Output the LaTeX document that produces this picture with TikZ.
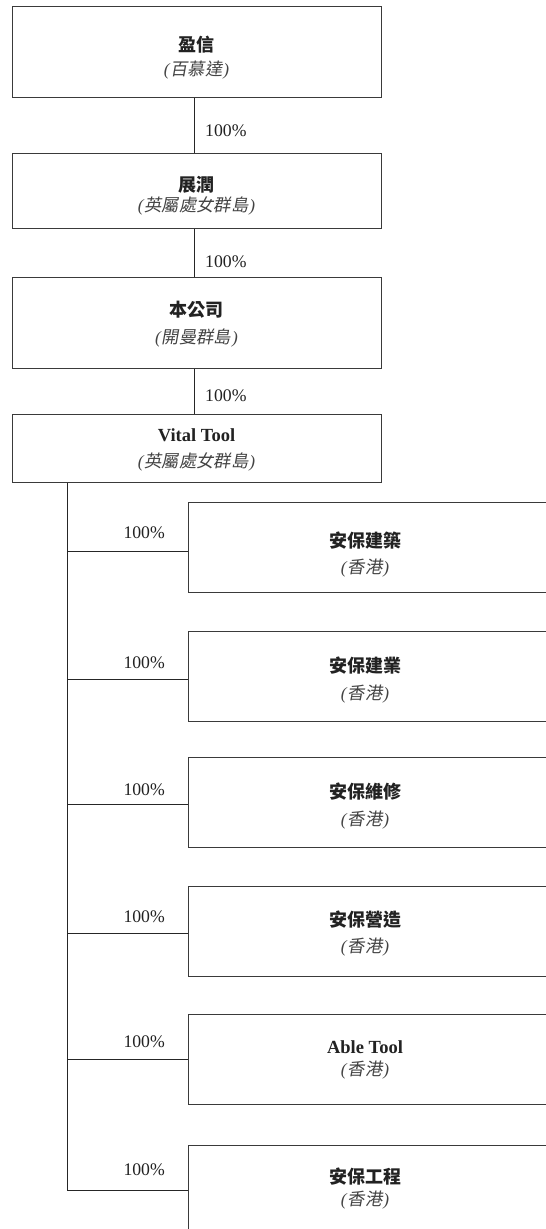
\documentclass[tikz,border=0pt]{standalone}
\usepackage{fontspec}
\setmainfont{Liberation Serif}
\newfontfamily\cjk{Noto Sans CJK TC}
\newfontfamily\cjksl[FakeSlant=0.18]{Noto Sans CJK TC}
\newcommand\ttlcjk[1]{{\cjk\bfseries #1}}
\newcommand\subcjk[1]{{\itshape (}\kern1pt{\cjksl #1}\kern1pt{\itshape )}}
\definecolor{linegray}{HTML}{3A3A3A}
\definecolor{txtgray}{HTML}{222222}
\tikzset{
  box/.style={draw=linegray, line width=1pt, anchor=north west, inner sep=0pt, minimum width=369pt},
  rbox/.style={draw=linegray, line width=1pt, anchor=north west, inner sep=0pt, minimum width=420pt, minimum height=90pt},
  conn/.style={draw=black!85, line width=0.9pt},
  ttl/.style={text=txtgray, font=\fontsize{18}{21}\selectfont\bfseries, inner sep=0pt},
  sub/.style={text=txtgray!85, font=\fontsize{17.3}{20}\selectfont, inner sep=0pt},
  pct/.style={text=txtgray, font=\fontsize{17.7}{20}\selectfont, inner sep=0pt}
}
\begin{document}
\begin{tikzpicture}[x=1pt,y=-1pt]
\clip (0,0) rectangle (546,1229);
\fill[white] (0,0) rectangle (546,1229);
% top chain boxes
\node[box, minimum height=91pt] (b1) at (12,6) {};
\node[box, minimum height=75pt] (b2) at (12,153) {};
\node[box, minimum height=91pt] (b3) at (12,277) {};
\node[box, minimum height=68pt] (b4) at (12,414) {};
% texts
\node[ttl] (t1) at (196.5,45) {\ttlcjk{盈信}};
\node[sub] (s1) at (196.5,70) {\subcjk{百慕達}};
\node[ttl] (t2) at (196.5,185) {\ttlcjk{展潤}};
\node[sub] (s2) at (196.5,206) {\subcjk{英屬處女群島}};
\node[ttl] (t3) at (196.5,310) {\ttlcjk{本公司}};
\node[sub] (s3) at (196.5,338) {\subcjk{開曼群島}};
\node[ttl, font=\fontsize{18.5}{21}\selectfont\bfseries] (t4) at (196.5,435) {Vital Tool};
\node[sub] (s4) at (196.5,462) {\subcjk{英屬處女群島}};
% chain connectors
\coordinate (spine) at (194,0);
\draw[conn] (b1.south -| spine) -- (b2.north -| spine);
\draw[conn] (b2.south -| spine) -- (b3.north -| spine);
\draw[conn] (b3.south -| spine) -- (b4.north -| spine);
\node[pct, anchor=west] (p1) at (205,131) {100\%};
\node[pct, anchor=west] (p2) at (205,262) {100\%};
\node[pct, anchor=west] (p3) at (205,396) {100\%};
% subsidiaries
\node[rbox] (cA) at (188,502) {};
\node[rbox] (cB) at (188,631) {};
\node[rbox] (cC) at (188,757) {};
\node[rbox] (cD) at (188,886) {};
\node[rbox] (cE) at (188,1014) {};
\node[rbox, minimum height=120pt] (cF) at (188,1145) {};
\node[ttl] (tA) at (365,541) {\ttlcjk{安保建築}};
\node[sub] (sA) at (365,568) {\subcjk{香港}};
\node[ttl] (tB) at (365,666) {\ttlcjk{安保建業}};
\node[sub] (sB) at (365,694) {\subcjk{香港}};
\node[ttl] (tC) at (365,792) {\ttlcjk{安保維修}};
\node[sub] (sC) at (365,820) {\subcjk{香港}};
\node[ttl] (tD) at (365,920) {\ttlcjk{安保營造}};
\node[sub] (sD) at (365,947) {\subcjk{香港}};
\node[ttl, font=\fontsize{18.5}{21}\selectfont\bfseries] (tE) at (365,1047) {Able Tool};
\node[sub] (sE) at (365,1070) {\subcjk{香港}};
\node[ttl] (tF) at (365,1177) {\ttlcjk{安保工程}};
\node[sub] (sF) at (365,1200) {\subcjk{香港}};
% spine
\coordinate (sx) at (67.5,0);
\coordinate (hA) at (188,551);
\coordinate (hB) at (188,679);
\coordinate (hC) at (188,804);
\coordinate (hD) at (188,933);
\coordinate (hE) at (188,1059);
\coordinate (hF) at (188,1190);
\draw[conn] (b4.south -| sx) |- (cF.west |- hF);
\draw[conn] (sx |- hA) -- (cA.west |- hA);
\draw[conn] (sx |- hB) -- (cB.west |- hB);
\draw[conn] (sx |- hC) -- (cC.west |- hC);
\draw[conn] (sx |- hD) -- (cD.west |- hD);
\draw[conn] (sx |- hE) -- (cE.west |- hE);
\node[pct, anchor=east] (qA) at (165,533) {100\%};
\node[pct, anchor=east] (qB) at (165,663) {100\%};
\node[pct, anchor=east] (qC) at (165,790) {100\%};
\node[pct, anchor=east] (qD) at (165,917) {100\%};
\node[pct, anchor=east] (qE) at (165,1042) {100\%};
\node[pct, anchor=east] (qF) at (165,1170) {100\%};
\end{tikzpicture}
\end{document}
